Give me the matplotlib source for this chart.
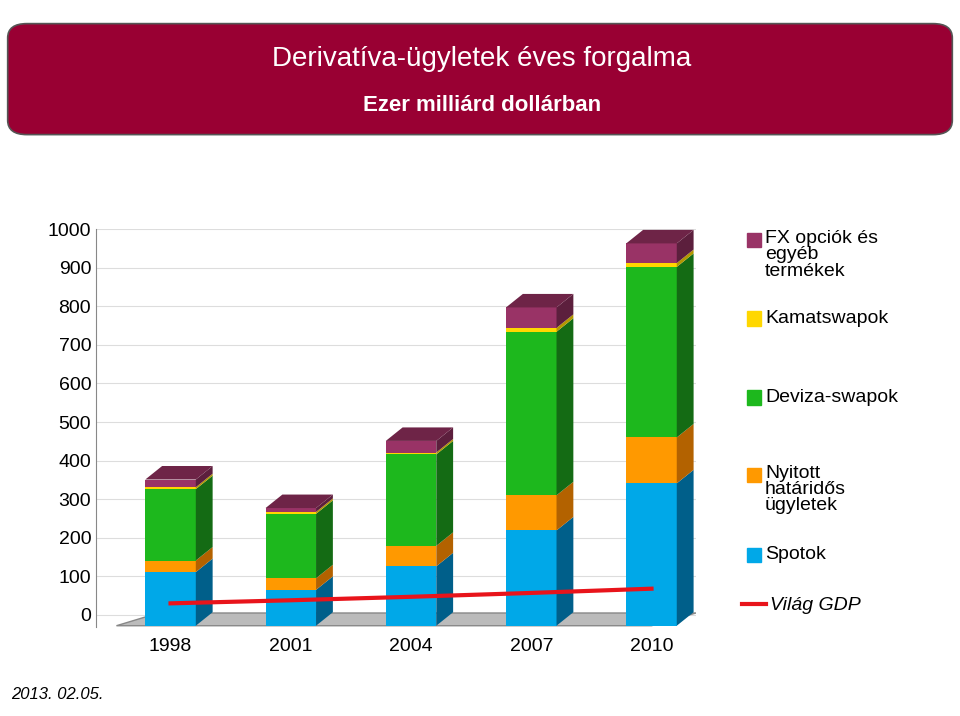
import matplotlib
matplotlib.use("Agg")
import matplotlib.pyplot as plt
import numpy as np
from matplotlib.patches import FancyBboxPatch, Polygon

plt.rcParams["font.family"] = "Liberation Sans"

years = ["1998", "2001", "2004", "2007", "2010"]
spot = [139, 93, 154, 247, 369]
forwards = [30, 30, 53, 91, 119]
fx_swaps = [185, 167, 237, 424, 442]
ir_swaps = [5, 5, 5, 10, 10]
options = [20, 10, 30, 53, 51]
gdp = [58, 66, 75, 85, 96]

series = [spot, forwards, fx_swaps, ir_swaps, options]
front = ["#00A8E8", "#FF9900", "#1DB81D", "#FFD700", "#993366"]
side = ["#005F8A", "#B36200", "#146B14", "#B39700", "#5C1F3D"]
top = ["#0080B0", "#CC7A00", "#179117", "#D4B300", "#6E2447"]

fig = plt.figure(figsize=(9.6, 7.16), dpi=100)
fig.patch.set_facecolor("white")
hdr = FancyBboxPatch((0.008, 0.812), 0.984, 0.155, boxstyle="round,pad=0,rounding_size=0.02",
                     transform=fig.transFigure, facecolor="#990033", edgecolor="#555555", lw=1.2)
fig.patches.append(hdr)
fig.text(0.502, 0.918, "Derivatíva-ügyletek éves forgalma", ha="center", va="center", color="white", fontsize=20)
fig.text(0.502, 0.853, "Ezer milliárd dollárban", ha="center", va="center", color="white", fontsize=16, weight="bold")
fig.text(0.012, 0.03, "2013. 02.05.", fontsize=12, style="italic", ha="left", va="center")

ax = fig.add_axes([0.1, 0.125, 0.625, 0.555])
x = np.arange(len(years))
w = 0.42
dx, dy = 0.14, 35
ax.set_xlim(-0.62, 4.37)
ax.set_ylim(-30, 1000)
for v in range(0, 1001, 100):
    ax.plot([-0.62, 4.37], [v, v], color="#dddddd", lw=0.8, zorder=0)
floor = Polygon([[-0.45, -28], [4.0, -28], [4.37, 5], [-0.1, 5]], closed=True,
                facecolor="#bbbbbb", edgecolor="#888888", zorder=1)
ax.add_patch(floor)
base = -28
bottom = np.zeros(len(years))
for s, fc, sc in zip(series, front, side):
    vals = np.array(s, float)
    ax.bar(x, vals, w, bottom=bottom + base, color=fc, zorder=3)
    for xi, b, v in zip(x, bottom + base, vals):
        r = xi + w/2
        ax.add_patch(Polygon([[r, b], [r + dx, b + dy], [r + dx, b + v + dy], [r, b + v]],
                             closed=True, facecolor=sc, edgecolor="none", zorder=3))
    bottom += vals
for xi, b in zip(x, bottom + base):
    l, r = xi - w/2, xi + w/2
    ax.add_patch(Polygon([[l, b], [r, b], [r + dx, b + dy], [l + dx, b + dy]],
                         closed=True, facecolor=top[4], edgecolor="none", zorder=3))
ax.plot(x, np.array(gdp) + base, color="#E8141B", lw=3, zorder=4)
ax.set_xticks(x)
ax.set_xticklabels(years, fontsize=14)
ax.set_yticks(range(0, 1001, 100))
ax.tick_params(axis="y", labelsize=14, length=0)
ax.tick_params(axis="x", length=0, pad=8)
for sp in ["top", "right", "bottom"]:
    ax.spines[sp].set_visible(False)
ax.spines["left"].set_color("#888888")

labels = [("FX opciók és\negyéb\ntermékek", 0.665, front[4]), ("Kamatswapok", 0.555, front[3]),
          ("Deviza-swapok", 0.445, front[2]), ("Nyitott\nhatáridős\nügyletek", 0.337, front[1]),
          ("Spotok", 0.225, front[0])]
for t, yy, c in labels:
    va = "top" if "\n" in t else "center"
    fig.patches.append(plt.Rectangle((0.778, yy - 0.01), 0.015, 0.02, transform=fig.transFigure, color=c))
    fig.text(0.797, yy + (0.014 if va == "top" else 0), t, fontsize=14, va=va, linespacing=0.95)
fig.add_artist(plt.Line2D([0.773, 0.798], [0.157, 0.157], color="#E8141B", lw=3, transform=fig.transFigure))
fig.text(0.802, 0.155, "Világ GDP", fontsize=14, style="italic", va="center")
fig.savefig("out.png", dpi=100)
